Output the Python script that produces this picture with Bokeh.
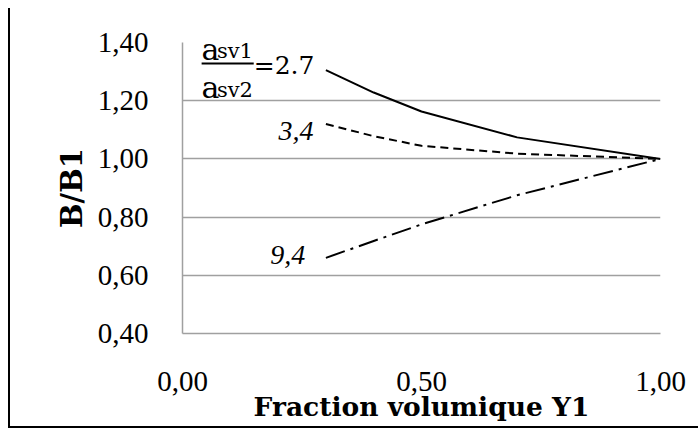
from bokeh.plotting import figure
from bokeh.models import FixedTicker, Label, Range1d
from bokeh.embed import file_html
from bokeh.resources import INLINE

# ---- data ----
y1_fraction = [0.3, 0.4, 0.5, 0.7, 1.0]
b_ratio_27 = [1.305, 1.228, 1.163, 1.074, 1.0]
b_ratio_34 = [1.12, 1.078, 1.045, 1.018, 1.0]
b_ratio_94 = [0.66, 0.718, 0.775, 0.875, 1.0]

x_ticks = [0.0, 0.5, 1.0]
x_tick_labels = ["0,00", "0,50", "1,00"]
y_ticks = [0.4, 0.6, 0.8, 1.0, 1.2, 1.4]
y_tick_labels = ["0,40", "0,60", "0,80", "1,00", "1,20", "1,40"]

x_title = "Fraction volumique Y1"
y_title = "B/B1"

GRID = "#a0a0a0"
SERIF = "'Liberation Serif', serif"
BOLD = "'DejaVu Serif', serif"
MATH = "'DejaVu Serif', serif"

p = figure(width=690, height=420, output_backend="svg", toolbar_location=None,
           x_range=Range1d(0, 1), y_range=Range1d(0.4, 1.4),
           min_border_left=172, min_border_right=40, min_border_top=34, min_border_bottom=95)
p.styles = {"border-left": "2px solid black", "border-bottom": "2px solid black",
            "margin-left": "8px", "margin-top": "8px"}
p.outline_line_color = None
p.background_fill_color = "white"
p.border_fill_color = "white"

# grids
p.xgrid.grid_line_color = None
p.ygrid.ticker = FixedTicker(ticks=y_ticks)
p.ygrid.grid_line_color = GRID
p.ygrid.grid_line_width = 1.5

# axes
p.xaxis.ticker = FixedTicker(ticks=x_ticks)
p.xaxis.major_label_overrides = dict(zip(x_ticks, x_tick_labels))
p.yaxis.ticker = FixedTicker(ticks=y_ticks)
p.yaxis.major_label_overrides = dict(zip(y_ticks, y_tick_labels))
for ax in (p.xaxis[0], p.yaxis[0]):
    ax.axis_line_color = GRID
    ax.axis_line_width = 1.5
    ax.major_tick_line_color = None
    ax.minor_tick_line_color = None
    ax.major_label_text_font = SERIF
    ax.major_label_text_font_size = "29px"
    ax.major_label_text_color = "black"
    ax.axis_label_text_font = BOLD
    ax.axis_label_text_font_style = "bold"
    ax.axis_label_text_color = "black"
p.xaxis.axis_label = x_title
p.yaxis.axis_label = y_title
p.xaxis.axis_label_text_font_size = "26.5px"
p.yaxis.axis_label_text_font_size = "29px"
p.yaxis.major_label_standoff = 28
p.yaxis.axis_label_standoff = 6
p.xaxis.major_label_standoff = 32
p.xaxis.axis_label_standoff = -3

# series
p.line(y1_fraction, b_ratio_27, line_color="black", line_width=2)
p.line(y1_fraction, b_ratio_34, line_color="black", line_width=2, line_dash="8 5")
p.line(y1_fraction, b_ratio_94, line_color="black", line_width=2, line_dash="20 6 3 6")

# annotations
def lab(x, y, text, size, font=MATH, style="normal", align="left"):
    p.add_layout(Label(x=x, y=y, text=text, text_font=font, text_font_size=size,
                       text_font_style=style, text_align=align,
                       text_baseline="alphabetic", text_color="black"))

RAISE = 0.0275
lab(0.040, 1.348 + RAISE, "a", "30px")
lab(0.072, 1.345 + RAISE, "sv1", "21px")
lab(0.040, 1.218 + RAISE, "a", "30px")
lab(0.072, 1.208 + RAISE, "sv2", "21px")
lab(0.149, 1.294 + RAISE, "=2.7", "25px")
p.segment(x0=[0.040], y0=[1.328], x1=[0.149], y1=[1.328], line_color="black", line_width=2)

lab(0.274, 1.070 + RAISE, "3,4", "28px", font=SERIF, style="italic", align="right")
lab(0.257, 0.641 + RAISE, "9,4", "28px", font=SERIF, style="italic", align="right")

open("out.html", "w").write(file_html(p, INLINE))
